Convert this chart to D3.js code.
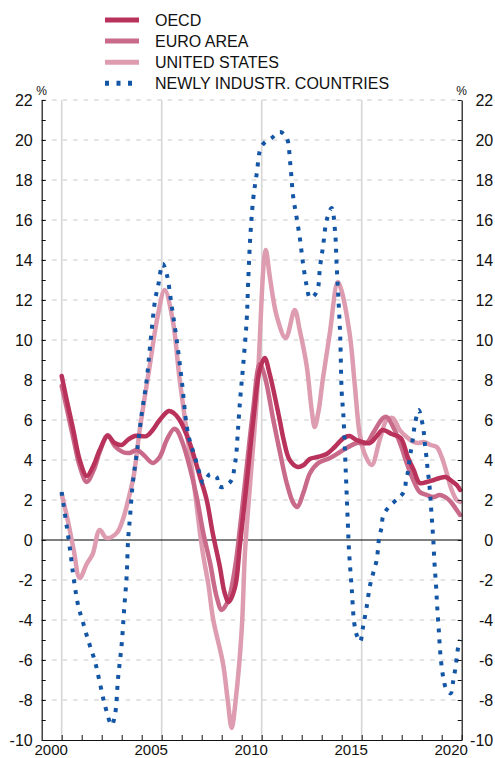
<!DOCTYPE html>
<html>
<head>
<meta charset="utf-8">
<script src="https://cdn.jsdelivr.net/npm/d3@7"></script>
<style>
  body { margin: 0; background: #fff; }
  svg { display: block; font-family: "Liberation Sans", Arial, Helvetica, sans-serif; }
</style>
</head>
<body>
<svg id="chart" width="495" height="758"></svg>
<script>
// series: [year, % value]
var oecd = [
  [2000.0, 8.2], [2000.25, 7.0], [2000.58, 5.5], [2000.9, 4.0], [2001.25, 3.2], [2001.58, 3.7],
  [2001.9, 4.5], [2002.3, 5.2], [2002.65, 4.85], [2003.0, 4.75], [2003.3, 5.0], [2003.65, 5.2],
  [2004.25, 5.2], [2004.55, 5.5], [2004.9, 6.0], [2005.35, 6.45], [2005.6, 6.35], [2005.9, 6.0],
  [2006.4, 4.85], [2006.9, 3.2], [2007.25, 2.0], [2007.55, 0.35], [2007.9, -1.3], [2008.15, -2.65],
  [2008.35, -3.1], [2008.67, -2.35], [2008.9, -0.35], [2009.25, 2.85], [2009.58, 6.0], [2009.9, 8.5],
  [2010.15, 9.1], [2010.4, 8.3], [2010.9, 6.0], [2011.1, 5.0], [2011.4, 4.0], [2011.8, 3.65],
  [2012.1, 3.75], [2012.4, 4.05], [2012.8, 4.15], [2013.25, 4.3], [2013.65, 4.65], [2014.1, 5.1],
  [2014.4, 5.2], [2014.75, 5.0], [2015.4, 4.85], [2015.75, 5.2], [2016.05, 5.5], [2016.5, 5.3],
  [2016.95, 5.1], [2017.3, 4.15], [2017.6, 3.5], [2017.9, 2.85], [2018.25, 2.9], [2018.6, 3.0],
  [2018.9, 3.1], [2019.2, 3.15], [2019.5, 2.95], [2019.75, 2.75], [2019.92, 2.5]
];

var euroArea = [
  [2000.0, 7.7], [2000.25, 6.6], [2000.6, 5.0], [2000.9, 3.7], [2001.25, 2.9], [2001.6, 3.5],
  [2001.9, 4.4], [2002.3, 5.25], [2002.65, 4.7], [2003.05, 4.4], [2003.4, 4.35], [2003.75, 4.5],
  [2004.1, 4.25], [2004.55, 3.85], [2004.9, 4.15], [2005.25, 5.0], [2005.6, 5.55], [2005.75, 5.5],
  [2006.05, 4.85], [2006.4, 3.65], [2006.75, 2.15], [2007.08, 0.35], [2007.42, -1.15], [2007.75, -2.85],
  [2008.0, -3.5], [2008.33, -3.0], [2008.67, -1.35], [2008.92, 0.65], [2009.25, 3.65], [2009.57, 6.5],
  [2009.9, 8.8], [2010.15, 8.2], [2010.58, 6.0], [2010.92, 4.35], [2011.25, 2.85], [2011.58, 1.85],
  [2011.78, 1.65], [2012.08, 2.35], [2012.42, 3.35], [2012.83, 3.85], [2013.42, 4.1], [2013.92, 4.4],
  [2014.33, 4.65], [2014.75, 4.85], [2015.25, 4.85], [2015.57, 5.35], [2016.07, 6.1], [2016.25, 6.15],
  [2016.6, 5.6], [2016.95, 4.75], [2017.25, 3.85], [2017.58, 3.0], [2017.9, 2.4], [2018.25, 2.25],
  [2018.6, 2.15], [2018.9, 2.25], [2019.25, 2.1], [2019.5, 1.85], [2019.75, 1.5], [2019.92, 1.25]
];

var unitedStates = [
  [2000.0, 2.3], [2000.3, 1.0], [2000.6, -0.5], [2000.9, -1.9], [2001.25, -1.2], [2001.55, -0.7],
  [2001.9, 0.5], [2002.25, 0.1], [2002.75, 0.35], [2003.05, 1.0], [2003.4, 2.3], [2003.6, 3.2],
  [2003.9, 5.5], [2004.4, 8.7], [2004.8, 11.2], [2005.15, 12.5], [2005.55, 11.0], [2005.9, 8.0],
  [2006.25, 5.4], [2006.6, 2.9], [2006.92, 0.3], [2007.08, -0.8], [2007.33, -2.2], [2007.58, -4.0],
  [2008.07, -6.2], [2008.3, -8.0], [2008.5, -9.4], [2008.7, -8.0], [2009.0, -4.5], [2009.17, -0.5],
  [2009.42, 2.8], [2009.75, 7.0], [2010.2, 14.5], [2010.4, 13.2], [2010.75, 11.2], [2011.2, 10.1],
  [2011.65, 11.5], [2011.9, 10.5], [2012.25, 8.7], [2012.5, 6.5], [2012.65, 5.65], [2012.85, 6.5],
  [2013.05, 8.0], [2013.4, 10.3], [2013.8, 12.9], [2013.95, 12.6], [2014.4, 10.3], [2014.65, 7.8],
  [2014.9, 5.3], [2015.15, 4.3], [2015.5, 3.75], [2015.9, 5.0], [2016.25, 6.0], [2016.55, 6.1],
  [2016.9, 5.5], [2017.25, 5.15], [2017.6, 4.9], [2017.85, 4.85], [2018.1, 4.9], [2018.45, 4.75],
  [2018.75, 4.65], [2019.0, 4.15], [2019.25, 3.35], [2019.5, 2.5], [2019.75, 2.0], [2019.92, 1.9]
];

var newlyIndustr = [
  [2000.0, 2.4], [2000.1, 1.7], [2000.25, 0.7], [2000.42, -0.5], [2000.57, -1.7], [2000.7, -2.6],
  [2000.85, -3.4], [2001.0, -3.9], [2001.32, -5.0], [2001.67, -6.1], [2001.92, -7.2], [2002.17, -8.3],
  [2002.5, -9.25], [2002.67, -8.7], [2002.82, -6.9], [2003.0, -5.2], [2003.12, -3.5], [2003.25, -1.75],
  [2003.32, 0.0], [2003.42, 1.2], [2003.55, 2.8], [2003.75, 4.3], [2004.0, 6.3], [2004.25, 8.0],
  [2004.42, 9.7], [2004.67, 12.0], [2004.82, 12.7], [2005.05, 13.8], [2005.25, 13.3], [2005.5, 11.7],
  [2005.75, 10.0], [2006.0, 8.0], [2006.25, 5.7], [2006.42, 4.9], [2006.58, 4.4], [2006.75, 3.85],
  [2006.92, 3.25], [2007.08, 2.85], [2007.42, 3.3], [2007.75, 3.15], [2007.85, 2.7], [2008.08, 2.65],
  [2008.5, 3.0], [2008.63, 3.6], [2008.72, 4.2], [2008.8, 5.3], [2008.92, 7.0], [2009.07, 8.7],
  [2009.25, 11.0], [2009.32, 12.8], [2009.42, 15.0], [2009.57, 17.0], [2009.75, 18.3], [2010.0, 19.7],
  [2010.5, 20.1], [2010.92, 20.4], [2011.25, 20.1], [2011.42, 18.9], [2011.57, 17.2], [2011.75, 16.1],
  [2011.92, 15.0], [2012.07, 13.8], [2012.25, 12.7], [2012.42, 12.1], [2012.75, 12.4], [2012.92, 13.7],
  [2013.07, 14.7], [2013.25, 16.0], [2013.5, 16.6], [2013.67, 15.4], [2013.75, 13.7], [2013.92, 10.3],
  [2014.0, 7.4], [2014.08, 6.3], [2014.2, 3.5], [2014.3, 1.0], [2014.37, -0.6], [2014.5, -2.4],
  [2014.62, -4.1], [2014.75, -4.75], [2014.92, -5.08], [2015.07, -4.33], [2015.25, -3.33], [2015.42, -2.25],
  [2015.57, -1.67], [2015.75, -1.0], [2015.87, 0.08], [2016.0, 0.67], [2016.07, 1.2], [2016.37, 1.67],
  [2016.82, 2.08], [2017.12, 2.42], [2017.22, 3.0], [2017.33, 3.5], [2017.4, 4.1], [2017.5, 4.67],
  [2017.58, 5.25], [2017.67, 5.83], [2017.85, 6.5], [2018.05, 5.75], [2018.12, 5.25], [2018.17, 4.67],
  [2018.25, 4.05], [2018.3, 3.47], [2018.37, 2.92], [2018.42, 2.33], [2018.46, 1.75], [2018.5, 1.17],
  [2018.54, 0.6], [2018.58, 0.0], [2018.64, -1.17], [2018.72, -2.33], [2018.78, -3.42], [2018.86, -4.58],
  [2018.93, -5.67], [2019.07, -6.83], [2019.22, -7.42], [2019.45, -7.67], [2019.57, -7.08], [2019.67, -6.5],
  [2019.75, -5.92], [2019.83, -5.33], [2019.93, -5.0]
];

var seriesNames = ["OECD", "EURO AREA", "UNITED STATES", "NEWLY INDUSTR. COUNTRIES"];
var yearLabels = [2000, 2005, 2010, 2015, 2020];
var yTicks = d3.range(-10, 23, 1);
var yLabels = d3.range(-10, 23, 2);

var svg = d3.select("#chart");
var plotLeft = 41.7, plotRight = 461.7, plotTop = 100, plotBottom = 740;

var x = d3.scaleLinear().domain([1999, 2020]).range([plotLeft, plotRight]);
var y = d3.scaleLinear().domain([-10, 22]).range([plotBottom, plotTop]);

var colours = ["#b8325b", "#c96a8a", "#de9cb1", "#1456a6"];

// horizontal dashed grid
svg.append("g").selectAll("line")
  .data(yLabels.filter(function (d) { return d !== 0 && d !== -10; }))
  .enter().append("line")
  .attr("x1", plotLeft).attr("x2", plotRight)
  .attr("y1", function (d) { return y(d); }).attr("y2", function (d) { return y(d); })
  .attr("stroke", "#c9c9c9").attr("stroke-width", 1).attr("stroke-dasharray", "4.5,6");

// vertical grid at the labelled years
svg.append("g").selectAll("line")
  .data(yearLabels.filter(function (d) { return d < 2020; }))
  .enter().append("line")
  .attr("x1", function (d) { return x(d); }).attr("x2", function (d) { return x(d); })
  .attr("y1", plotTop).attr("y2", plotBottom)
  .attr("stroke", "#d6d6d6").attr("stroke-width", 1.6);

// zero line
svg.append("line")
  .attr("x1", plotLeft).attr("x2", plotRight)
  .attr("y1", y(0)).attr("y2", y(0))
  .attr("stroke", "#000").attr("stroke-width", 1.1);

// lines
var line = d3.line()
  .x(function (d) { return x(d[0]); })
  .y(function (d) { return y(d[1]); })
  .curve(d3.curveCatmullRom.alpha(0.5));

var allSeries = [unitedStates, euroArea, oecd, newlyIndustr];
var drawColours = [colours[2], colours[1], colours[0], colours[3]];

allSeries.forEach(function (s, i) {
  var p = svg.append("path")
    .datum(s)
    .attr("d", line)
    .attr("fill", "none")
    .attr("stroke", drawColours[i])
    .attr("stroke-width", i === 3 ? 4 : 4.5)
    .attr("stroke-linejoin", "round");
  if (i === 3) {
    p.attr("stroke-dasharray", "4,7").attr("stroke-linecap", "butt");
  } else {
    p.attr("stroke-linecap", "round");
  }
});

// axes
var fmt = function (d) { return d % 2 === 0 ? d : ""; };

var yLeft = svg.append("g")
  .attr("transform", "translate(" + plotLeft + ",0)")
  .call(d3.axisLeft(y).tickValues(yTicks).tickFormat(fmt).tickSizeInner(-4).tickSizeOuter(0).tickPadding(9));

var yRight = svg.append("g")
  .attr("transform", "translate(" + plotRight + ",0)")
  .call(d3.axisRight(y).tickValues(yTicks).tickFormat(fmt).tickSizeInner(-4).tickSizeOuter(0));
yRight.selectAll("text").attr("x", 31.5).attr("text-anchor", "end");

var xAxis = svg.append("g")
  .attr("transform", "translate(0," + plotBottom + ")")
  .call(d3.axisBottom(x).tickValues(d3.range(2000, 2021)).tickFormat(function (d) {
    return yearLabels.indexOf(d) >= 0 ? d : "";
  }).tickSizeInner(-5).tickSizeOuter(0));

[yLeft, yRight, xAxis].forEach(function (g) {
  g.selectAll("text").attr("font-size", 16).attr("fill", "#111")
    .attr("font-family", "'Liberation Sans', Arial, Helvetica, sans-serif");
  g.selectAll("line").attr("stroke", "#111");
  g.select(".domain").attr("stroke", "#111").attr("stroke-width", 1.2);
});
xAxis.selectAll("text").attr("x", -11).attr("y", 4).attr("dy", "0.71em").attr("font-size", 15);

// % markers
svg.append("text").attr("x", plotLeft).attr("y", 95).attr("text-anchor", "middle")
  .attr("font-size", 12).attr("fill", "#111").text("%");
svg.append("text").attr("x", plotRight).attr("y", 95).attr("text-anchor", "middle")
  .attr("font-size", 12).attr("fill", "#111").text("%");

// legend
var legend = svg.append("g").selectAll("g")
  .data(seriesNames)
  .enter().append("g")
  .attr("transform", function (d, i) { return "translate(105," + (20 + i * 21.1) + ")"; });

legend.append("line")
  .attr("x1", 0).attr("x2", 34).attr("y1", 0).attr("y2", 0)
  .attr("stroke", function (d, i) { return colours[i]; })
  .attr("stroke-width", 5)
  .attr("stroke-dasharray", function (d, i) { return i === 3 ? "4,7.5" : null; });

legend.append("text")
  .attr("x", 50).attr("y", 6)
  .attr("font-size", 16).attr("fill", "#111")
  .text(function (d) { return d; });
</script>
</body>
</html>
